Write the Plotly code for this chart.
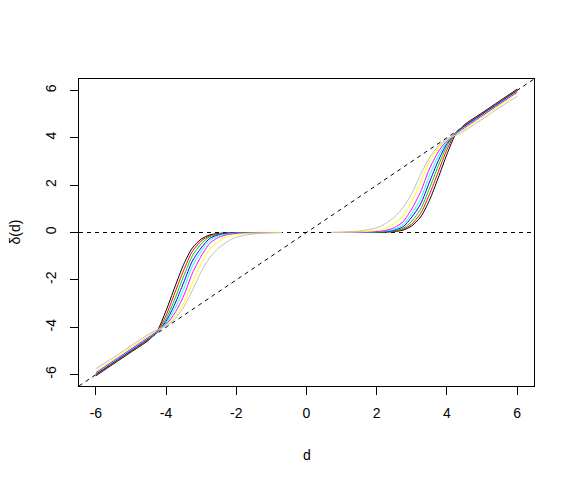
import plotly.graph_objects as go

# grid of |d| values (curves are odd: delta(-d) = -delta(d))
d_grid = [0.7, 1.0, 1.5, 2.0, 2.25, 2.5, 2.75, 3.0, 3.25, 3.5, 3.75,
          4.0, 4.25, 4.5, 5.0, 5.5, 6.0]

delta_black = [0, 0, 0, 0.01, 0.02, 0.04, 0.10, 0.28, 0.65, 1.35, 2.30,
               3.30, 4.15, 4.55, 5.05, 5.55, 6.05]
delta_red = [0, 0, 0, 0.01, 0.02, 0.05, 0.13, 0.36, 0.80, 1.60, 2.55,
             3.50, 4.20, 4.53, 5.03, 5.53, 6.03]
delta_green = [0, 0, 0, 0.01, 0.03, 0.07, 0.17, 0.48, 0.98, 1.85, 2.80,
               3.65, 4.22, 4.50, 5.00, 5.50, 6.00]
delta_blue = [0, 0, 0.01, 0.02, 0.04, 0.10, 0.24, 0.65, 1.20, 2.12, 3.02,
              3.75, 4.20, 4.48, 4.98, 5.48, 5.98]
delta_cyan = [0, 0, 0.01, 0.03, 0.06, 0.13, 0.33, 0.80, 1.42, 2.40, 3.22,
              3.82, 4.18, 4.45, 4.95, 5.45, 5.95]
delta_magenta = [0, 0, 0.02, 0.04, 0.09, 0.20, 0.45, 1.00, 1.72, 2.68, 3.40,
                 3.88, 4.16, 4.42, 4.92, 5.42, 5.92]
delta_yellow = [0, 0.01, 0.03, 0.08, 0.17, 0.38, 0.70, 1.30, 2.12, 2.98, 3.55,
                3.92, 4.12, 4.37, 4.87, 5.37, 5.87]
delta_gray = [0.01, 0.02, 0.06, 0.20, 0.38, 0.65, 1.05, 1.65, 2.45, 3.15, 3.65,
              3.95, 4.10, 4.30, 4.78, 5.28, 5.75]

series = [("black", delta_black), ("#FF0000", delta_red),
          ("#00CD00", delta_green), ("#0000FF", delta_blue),
          ("#00FFFF", delta_cyan), ("#FF00FF", delta_magenta),
          ("#FFFF00", delta_yellow), ("#BEBEBE", delta_gray)]

lim = [-6.48, 6.48]
fnt = dict(family="Liberation Sans, Arial", size=14, color="black")

fig = go.Figure()

# reference lines: delta = 0 and delta = d
fig.add_trace(go.Scatter(x=lim, y=[0, 0], mode="lines",
                         line=dict(color="black", width=1, dash="4px,4px"),
                         showlegend=False, hoverinfo="skip"))
fig.add_trace(go.Scatter(x=lim, y=lim, mode="lines",
                         line=dict(color="black", width=1, dash="4px,4px"),
                         showlegend=False, hoverinfo="skip"))

for col, vals in series:
    xs = [-d for d in reversed(d_grid)] + [None] + d_grid
    ys = [-v for v in reversed(vals)] + [None] + vals
    fig.add_trace(go.Scatter(x=xs, y=ys, mode="lines",
                             line=dict(color=col, width=1, shape="spline",
                                       smoothing=0.7),
                             connectgaps=False, showlegend=False))

axis = dict(range=lim, tickvals=[-6, -4, -2, 0, 2, 4, 6],
            ticktext=["-6", "-4", "-2", "0", "2", "4", "6"],
            ticks="outside", ticklen=8, tickcolor="black",
            showline=True, linecolor="black", linewidth=1, mirror=True,
            showgrid=False, zeroline=False, tickfont=fnt)

# page body adds an 8px offset, so margins are shifted by that amount
fig.update_layout(
    width=575, height=484,
    margin=dict(l=71, r=49, t=71, b=106),
    plot_bgcolor="white", paper_bgcolor="white",
    xaxis=dict(axis, ticklabelstandoff=6),
    yaxis=dict(axis, tickangle=-90, ticklabelstandoff=8),
    annotations=[
        dict(text="d", x=0.5, y=-(455 - 386) / 307.0, xref="paper",
             yref="paper", xanchor="center", yanchor="middle",
             showarrow=False, font=fnt),
        dict(text="δ(d)", x=-(79 - 14) / 455.0, y=0.5, xref="paper",
             yref="paper", xanchor="center", yanchor="middle",
             showarrow=False, textangle=-90, font=fnt),
    ],
)

fig.write_html("out.html")
